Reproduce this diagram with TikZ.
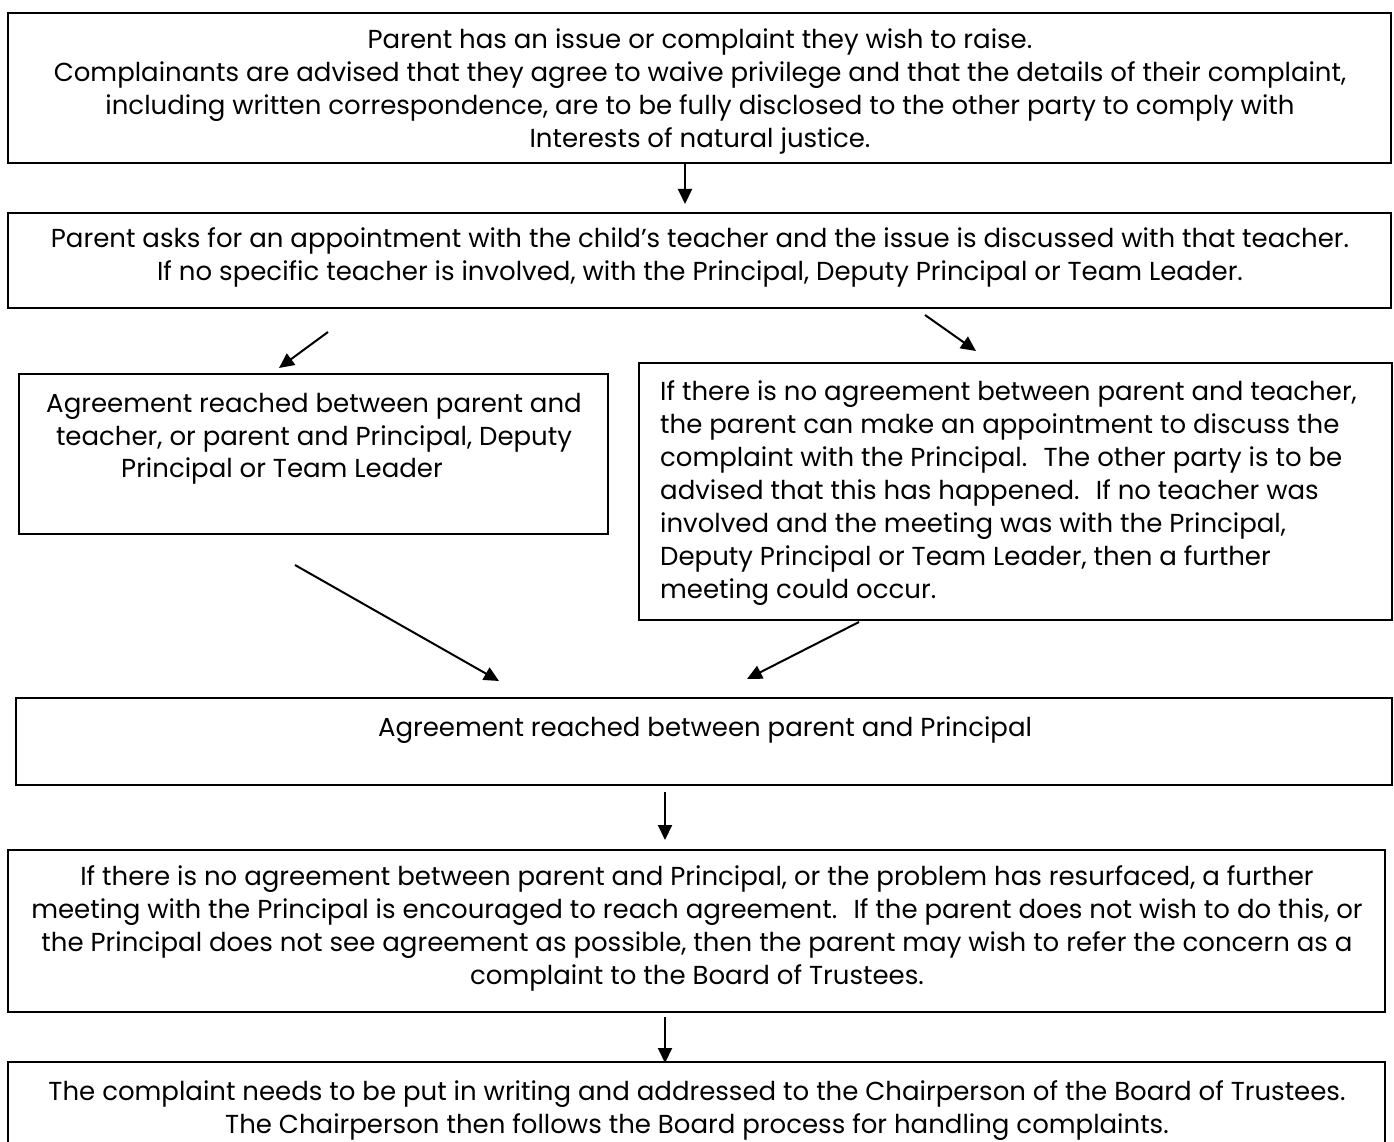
\documentclass[tikz,border=0pt]{standalone}
\usepackage{fontspec}
\setmainfont{Poppins}
\usetikzlibrary{arrows.meta}
\tikzset{
  box/.style={draw=black, line width=2pt, inner sep=0pt, outer sep=0pt, anchor=north west},
  txt/.style={inner sep=0pt, align=center, font=\fontsize{26}{33}\selectfont},
  ltxt/.style={inner sep=0pt, align=left, anchor=west, font=\fontsize{26}{33}\selectfont},
  arr/.style={line width=2pt, -{Triangle[length=15pt,width=14pt]}}
}
\begin{document}
\begin{tikzpicture}[x=1pt,y=-1pt]
\useasboundingbox (0,0) rectangle (1394,1142);
\fill[white] (0,0) rectangle (1394,1142);
% boxes
\node[box, minimum width=1383pt, minimum height=150pt] (b1) at (8,13) {};
\node[box, minimum width=1383pt, minimum height=95pt] (b2) at (8,213) {};
\node[box, minimum width=589pt, minimum height=160pt] (b3) at (19,374) {};
\node[box, minimum width=753pt, minimum height=257pt] (b4) at (639,363) {};
\node[box, minimum width=1376pt, minimum height=87pt] (b5) at (16,698) {};
\node[box, minimum width=1377pt, minimum height=162pt] (b6) at (8,850) {};
\node[box, minimum width=1377pt, minimum height=90pt] (b7) at (8,1062) {};
% texts
\node[txt] (t1) at (700,91) {Parent has an issue or complaint they wish to raise.\\
Complainants are advised that they agree to waive privilege and that the details of their complaint,\\
including written correspondence, are to be fully disclosed to the other party to comply with\\
Interests of natural justice.};
\node[txt] (t2) at (700,257) {Parent asks for an appointment with the child’s teacher and the issue is discussed with that teacher.\\
If no specific teacher is involved, with the Principal, Deputy Principal or Team Leader.};
\node[txt] (t3) at (314,422.5) {Agreement reached between parent and\\
teacher, or parent and Principal, Deputy};
\node[txt] (t3b) at (282,471) {Principal or Team Leader};
\node[ltxt] (t4) at (660,493) {If there is no agreement between parent and teacher,\\
the parent can make an appointment to discuss the\\
complaint with the Principal.~ The other party is to be\\
advised that this has happened.~ If no teacher was\\
involved and the meeting was with the Principal,\\
Deputy Principal or Team Leader, then a further\\
meeting could occur.};
\node[txt] (t5) at (705,730) {Agreement reached between parent and Principal};
\node[txt] (t6) at (697,928) {If there is no agreement between parent and Principal, or the problem has resurfaced, a further\\
meeting with the Principal is encouraged to reach agreement.~ If the parent does not wish to do this, or\\
the Principal does not see agreement as possible, then the parent may wish to refer the concern as a\\
complaint to the Board of Trustees.};
\node[txt] (t7) at (697,1111) {The complaint needs to be put in writing and addressed to the Chairperson of the Board of Trustees.\\
The Chairperson then follows the Board process for handling complaints.};
% connector ends
\coordinate (a1s) at (685,164);  \coordinate (a1e) at (685,204);
\coordinate (a2s) at (328,332);  \coordinate (a2e) at (279,368);
\coordinate (a3s) at (925,315);  \coordinate (a3e) at (976,351);
\coordinate (a4s) at (295,565);  \coordinate (a4e) at (499,681);
\coordinate (a5s) at (859,622);  \coordinate (a5e) at (747,679);
\coordinate (a6s) at (665,792);  \coordinate (a6e) at (665,840);
\coordinate (a7s) at (665,1017); \coordinate (a7e) at (665,1063);
\draw[arr] (a1s) -- (a1e);
\draw[arr] (a2s) -- (a2e);
\draw[arr] (a3s) -- (a3e);
\draw[arr] (a4s) -- (a4e);
\draw[arr] (a5s) -- (a5e);
\draw[arr] (a6s) -- (a6e);
\draw[arr] (a7s) -- (a7e);
\end{tikzpicture}
\end{document}
